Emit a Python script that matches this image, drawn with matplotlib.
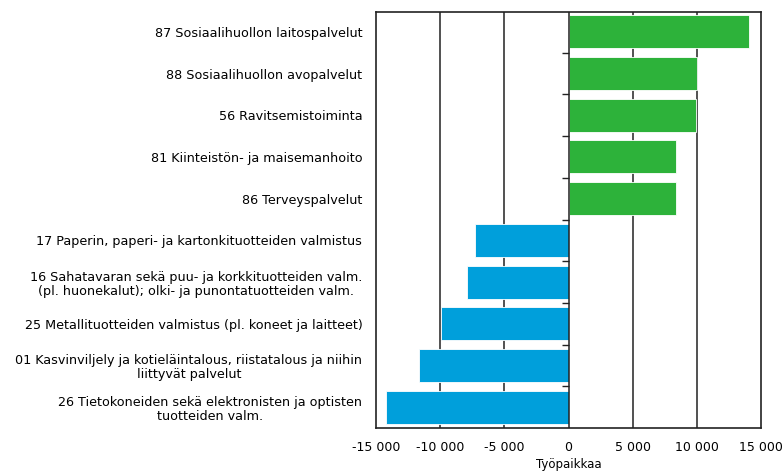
import numpy as np
import matplotlib.pyplot as plt
from matplotlib.ticker import FuncFormatter

plt.rcParams['font.family'] = ['DejaVu Sans']

# Toimialat ja työpaikkojen muutos
labels = [
    "87 Sosiaalihuollon laitospalvelut",
    "88 Sosiaalihuollon avopalvelut",
    "56 Ravitsemistoiminta",
    "81 Kiinteistön- ja maisemanhoito",
    "86 Terveyspalvelut",
    "17 Paperin, paperi- ja kartonkituotteiden valmistus",
    "16 Sahatavaran sekä puu- ja korkkituotteiden valm.\n(pl. huonekalut); olki- ja punontatuotteiden valm.",
    "25 Metallituotteiden valmistus (pl. koneet ja laitteet)",
    "01 Kasvinviljely ja kotieläintalous, riistatalous ja niihin\nliittyvät palvelut",
    "26 Tietokoneiden sekä elektronisten ja optisten\ntuotteiden valm.",
]
values = [14050, 9980, 9950, 8420, 8420, -7330, -7930, -9980, -11690, -14210]
xticks = [-15000, -10000, -5000, 0, 5000, 10000, 15000]

green = "#2db23a"
blue = "#009fdb"

fig = plt.figure(figsize=(7.82, 4.72), dpi=100)
ax = fig.add_axes([0.481, 0.093, 0.492, 0.882])

y = np.arange(len(labels))
colors = [green if v > 0 else blue for v in values]
ax.barh(y, values, height=0.79, color=colors, edgecolor="white", linewidth=0.6, zorder=3)

# pystysuorat apuviivat
for t in xticks[1:-1]:
    ax.axvline(t, color="#222222", linewidth=1.1, zorder=2 if t != 0 else 4)

# pienet jakoviivat nollakohdan vasemmalla puolella
bounds = y[:-1] + 0.5
ax.hlines(bounds, -470, 0, color="#222222", linewidth=1.0, zorder=4)

ax.set_xlim(-15000, 15000)
ax.set_ylim(len(labels) - 0.5, -0.48)
ax.set_xticks(xticks)
ax.xaxis.set_major_formatter(FuncFormatter(lambda v, p: f"{int(v):,}".replace(",", " ")))
ax.tick_params(axis="x", length=0, labelsize=9, pad=9)
ax.set_yticks(y)
ax.set_yticklabels(labels, fontsize=9.2, multialignment="center", linespacing=1.1)
ax.tick_params(axis="y", length=0, pad=10)
ax.set_xlabel("Työpaikkaa", fontsize=8.5, labelpad=3)

for s in ax.spines.values():
    s.set_linewidth(1.2)
    s.set_color("#222222")

fig.savefig("out.png", dpi=100)
